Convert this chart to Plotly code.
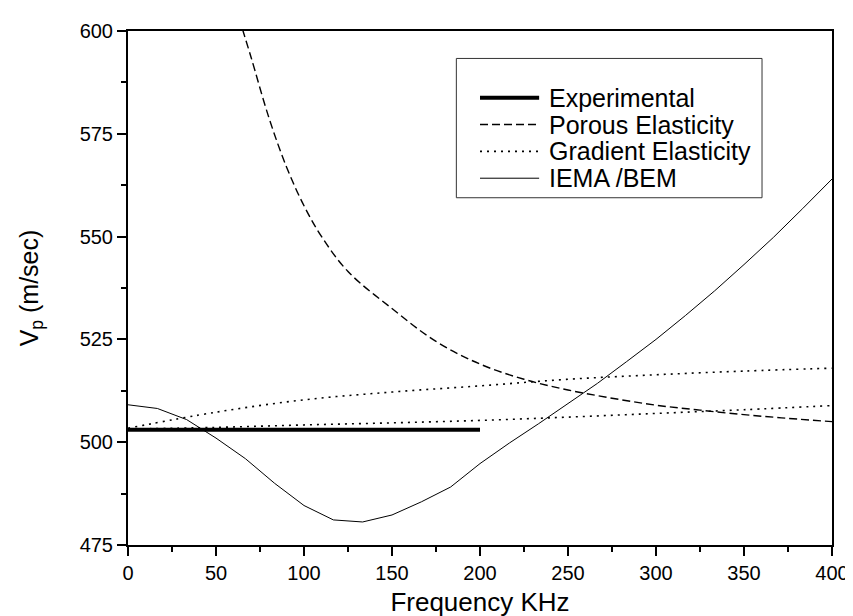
import plotly.graph_objects as go

# ── data ─────────────────────────────────────────────────────────────────────
exp_freq = [0, 200]
exp_vp = [503, 503]

porous_freq = [65, 70, 80, 90, 100, 110, 125, 150, 175, 200, 225, 250, 275, 300, 325, 350, 375, 400]
porous_vp = [600.5, 593.5, 579, 567, 557.5, 550, 541.5, 532.5, 524.5, 519, 515.3, 512.7, 510.7, 509, 507.8, 506.7, 505.8, 505]

grad_freq = [0, 50, 100, 150, 200, 250, 300, 350, 400]
grad_hi_vp = [503.4, 507.3, 510.3, 512.2, 513.7, 515.3, 516.4, 517.3, 518]
grad_lo_vp = [503.2, 503.6, 504.2, 504.7, 505.3, 506.1, 507, 507.9, 508.9]

iema_freq = [0, 16.7, 33.3, 50, 66.7, 83.3, 100, 116.7, 133.3, 150, 166.7, 183.3, 200,
             216.7, 233.3, 250, 266.7, 283.3, 300, 316.7, 333.3, 350, 366.7, 383.3, 400]
iema_vp = [509.1, 508.2, 505.5, 501, 496, 490, 484.6, 481.1, 480.6, 482.3, 485.5, 489.1, 494.8,
           499.8, 504.5, 509.3, 514.3, 519.6, 525, 530.8, 536.8, 543.2, 549.8, 556.8, 564]

FONT = "Arial, Liberation Sans, sans-serif"
INK = "#000000"

fig = go.Figure()
fig.add_trace(go.Scatter(x=exp_freq, y=exp_vp, mode="lines", name="Experimental",
                         line=dict(color=INK, width=4)))
fig.add_trace(go.Scatter(x=porous_freq, y=porous_vp, mode="lines", name="Porous Elasticity",
                         line=dict(color=INK, width=1.4, dash="8px,4px", shape="spline")))
fig.add_trace(go.Scatter(x=grad_freq, y=grad_hi_vp, mode="lines", name="Gradient Elasticity",
                         line=dict(color=INK, width=1.6, dash="2px,5px", shape="spline")))
fig.add_trace(go.Scatter(x=grad_freq, y=grad_lo_vp, mode="lines", name="Gradient Elasticity (2)",
                         showlegend=False,
                         line=dict(color=INK, width=1.6, dash="2px,5px", shape="spline")))
fig.add_trace(go.Scatter(x=iema_freq, y=iema_vp, mode="lines", name="IEMA /BEM",
                         line=dict(color=INK, width=1)))

# ── boxed legend, Origin style (long line samples, tight rows) ───────────────
LEG_X0, LEG_X1, LEG_Y0, LEG_Y1 = 0.4664, 0.9006, 0.6756, 0.9466
ROW_TOP, ROW_STEP = 0.8702, 0.0522
SAMPLE_X0, SAMPLE_X1, TEXT_X = 0.500, 0.584, 0.5952

fig.add_shape(type="rect", xref="paper", yref="paper",
              x0=LEG_X0, x1=LEG_X1, y0=LEG_Y0, y1=LEG_Y1,
              line=dict(color="#333333", width=1), fillcolor="white", layer="above")
legend_traces = [t for t in fig.data if t.showlegend is not False]
for i, tr in enumerate(legend_traces):
    yy = ROW_TOP - i * ROW_STEP
    fig.add_shape(type="line", xref="paper", yref="paper",
                  x0=SAMPLE_X0, x1=SAMPLE_X1, y0=yy, y1=yy, layer="above",
                  line=dict(color=INK, width=tr.line.width, dash=tr.line.dash or "solid"))
    fig.add_annotation(xref="paper", yref="paper", x=TEXT_X, y=yy,
                       xanchor="left", yanchor="middle", showarrow=False,
                       text=tr.name, font=dict(size=25, family=FONT, color=INK))

axis_common = dict(
    showgrid=False, zeroline=False, showline=True, linecolor=INK, linewidth=2,
    mirror=True, ticks="outside", ticklen=9, tickwidth=2, tickcolor=INK,
    tickfont=dict(size=20, color=INK, family=FONT),
)

fig.update_layout(
    width=853, height=616,
    paper_bgcolor="white", plot_bgcolor="white",
    font=dict(family=FONT, color=INK),
    margin=dict(l=120, r=19, t=17, b=75),
    showlegend=False,
    xaxis=dict(range=[0, 400], dtick=50, tick0=0,
               minor=dict(dtick=25, ticks="outside", ticklen=5, tickwidth=2, tickcolor=INK),
               title=dict(text="Frequency KHz", font=dict(size=26, family=FONT, color=INK),
                          standoff=10),
               **axis_common),
    yaxis=dict(range=[475, 600], dtick=25, tick0=475,
               minor=dict(dtick=12.5, ticks="outside", ticklen=5, tickwidth=2, tickcolor=INK),
               title=dict(text="V<sub>p</sub> (m/sec)", font=dict(size=25, family=FONT, color=INK),
                          standoff=34),
               **axis_common),
)

fig.write_html("out.html")
